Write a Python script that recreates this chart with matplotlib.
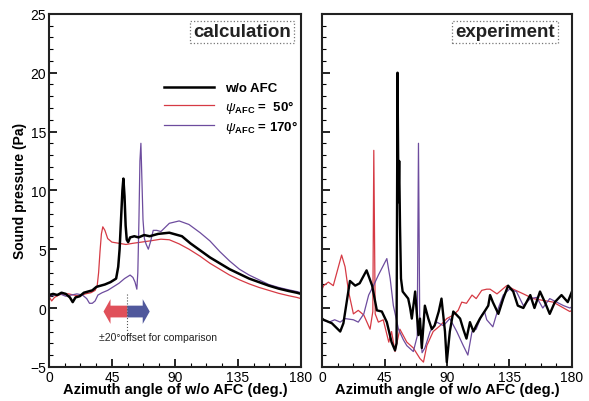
import numpy as np
import matplotlib
matplotlib.use("Agg")
import matplotlib.pyplot as plt
from matplotlib.ticker import MultipleLocator
from matplotlib.patches import FancyArrow

plt.rcParams['font.family'] = ['Liberation Sans', 'DejaVu Sans']
plt.rcParams['mathtext.fontset'] = 'custom'
plt.rcParams['mathtext.rm'] = 'Liberation Sans'
plt.rcParams['mathtext.it'] = 'Liberation Sans:italic'
plt.rcParams['mathtext.bf'] = 'Liberation Sans:bold'

# calculation (left panel)
calc_black_ang = [0, 3, 6, 9, 12, 15, 17, 19, 22, 25, 28, 31, 34, 37, 40, 44, 48, 49.5, 50.5, 51.5, 52.5, 53.2,
                  54, 54.8, 55.6, 56.6, 58, 61, 64, 68, 72, 78, 86, 95, 101, 108, 115, 122, 129, 136, 143, 150,
                  157, 164, 171, 177, 180]
calc_black = [1.1, 1.2, 1.1, 1.3, 1.2, 0.9, 0.5, 0.9, 1.0, 1.3, 1.4, 1.5, 1.8, 1.9, 2.0, 2.2, 2.5, 3.5, 5.0, 7.5,
              10.0, 11.0, 9.5, 7.0, 5.8, 5.6, 6.0, 6.1, 6.0, 6.2, 6.1, 6.3, 6.4, 6.1, 5.5, 4.9, 4.3, 3.8, 3.3, 2.9,
              2.5, 2.2, 1.9, 1.65, 1.45, 1.3, 1.2]

calc_red_ang = [0, 2, 4, 7, 10, 14, 18, 22, 26, 30, 33, 34.5, 35.5, 36.5, 37.5, 38.5, 40, 42, 45, 50, 55, 60, 66,
                72, 80, 86, 93, 100, 108, 115, 122, 129, 136, 143, 150, 157, 164, 171, 177, 180]
calc_red = [1.0, 0.6, 0.9, 1.1, 1.2, 1.2, 1.1, 1.0, 1.2, 1.3, 1.5, 1.9, 3.0, 4.8, 6.3, 6.9, 6.6, 5.9, 5.6, 5.5,
            5.4, 5.5, 5.6, 5.7, 5.85, 5.8, 5.45, 5.0, 4.4, 3.8, 3.3, 2.8, 2.4, 2.05, 1.75, 1.5, 1.25, 1.05, 0.9, 0.8]

calc_purple_ang = [0, 4, 8, 12, 16, 20, 24, 27, 29, 31, 33, 35, 38, 42, 46, 50, 54, 58, 60, 61.5, 62.8, 63.5, 64.3,
                   65, 65.7, 66.4, 67.2, 68.2, 69.5, 71, 72.5, 74.5, 77, 80, 86, 93, 100, 108, 115, 122, 129, 136,
                   143, 150, 157, 164, 171, 177, 180]
calc_purple = [1.0, 1.1, 1.2, 1.0, 1.1, 1.2, 1.1, 0.8, 0.4, 0.4, 0.6, 1.1, 1.3, 1.5, 1.8, 2.1, 2.5, 2.8, 2.6, 2.2,
               1.6, 3.0, 7.5, 12.5, 14.0, 11.0, 7.5, 5.9, 5.4, 5.0, 5.6, 6.6, 6.6, 6.5, 7.2, 7.4, 7.1, 6.4, 5.7,
               4.8, 4.0, 3.3, 2.8, 2.4, 2.0, 1.75, 1.55, 1.4, 1.3]

# experiment (right panel)
exp_black_ang = [0, 1, 7, 13, 15.3, 20, 23.8, 27, 32, 36, 39.4, 43, 46.6, 50, 52.5, 53.6, 54.3, 55.0, 55.5, 56.1,
                 56.8, 58, 60, 62, 63.4, 64.6, 67, 69.4, 70.5, 71.8, 74, 76.5, 79, 81, 84, 86, 88.5, 89.8, 92, 94.5,
                 97, 99.4, 101.7, 104, 106.5, 109, 111, 113.7, 117, 119.7, 121, 123, 127, 130.5, 134, 137.7, 141,
                 145, 150, 153, 157, 160.5, 164, 167.7, 172.5, 177, 180]
exp_black = [-0.9, -1.0, -1.3, -2.0, -1.3, 2.3, 1.9, 2.1, 3.2, 1.9, -0.2, -0.3, -1.2, -2.9, -3.6, -3.0, 20.0, 9.0,
             12.5, 7.0, 2.5, 1.4, 1.1, 0.8, 0.0, -0.9, 1.4, -2.3, -0.9, -3.4, 0.2, -0.9, -1.8, -1.5, -0.3, 0.8, -2.0,
             -4.6, -2.0, -0.3, -0.6, -0.9, -1.8, -2.6, -1.2, -2.0, -1.5, -0.9, -0.3, 0.2, 1.1, 0.5, -0.5, 0.8, 1.9,
             1.4, 0.2, 0.0, 1.1, 0.0, 1.4, 0.5, -0.5, 0.5, 1.1, 0.5, 1.4]

exp_red_ang = [0, 1, 4.5, 8, 14, 16.5, 19, 22.5, 26, 30, 34.5, 36.5, 37.2, 38.2, 40.5, 44, 48, 50, 52.5, 56, 61,
               65.7, 70.5, 73, 75.4, 80, 85, 89.8, 94.5, 98, 100.6, 104, 108, 111, 115, 118.6, 121, 126, 133, 137.7,
               145, 152, 159, 166.5, 172.5, 178.5, 180]
exp_red = [1.6, 1.9, 2.2, 1.9, 4.5, 3.5, 1.4, -0.5, -0.2, -0.6, -1.8, -0.3, 13.4, -0.5, -1.2, -1.0, -2.9, -2.0,
           -3.7, -1.8, -2.9, -3.4, -4.3, -4.6, -3.2, -2.0, -1.5, -0.9, -0.6, -0.2, 0.5, 0.4, 1.1, 0.8, 1.5, 1.6,
           1.6, 1.2, 1.9, 1.6, 1.2, 0.8, 0.65, 0.5, 0.1, -0.3, -0.2]

exp_purple_ang = [0, 5, 9, 13, 16.5, 22.5, 26, 30, 33.5, 37, 40.5, 44, 46.6, 49, 51.3, 55, 58.5, 61, 65.7, 68.5,
                  69.4, 70.3, 72, 74, 77.8, 82.6, 87.4, 92, 97, 101.7, 105, 108, 111, 115, 117, 118.6, 123, 127,
                  130.5, 135, 140, 145, 150, 154.6, 159, 164, 169, 174, 178.5, 180]
exp_purple = [-1.0, -1.2, -1.0, -1.2, -0.9, -1.0, -1.2, -0.5, 1.1, 1.9, 2.8, 3.6, 4.2, 2.5, 0.2, -1.8, -2.7, -3.2,
              -3.7, -2.4, 14.0, -1.0, -3.8, -3.4, -2.0, -1.2, -1.5, -0.9, -2.0, -3.2, -4.0, -2.0, -1.8, -0.6, -0.3,
              -1.0, -1.6, 0.0, 1.1, 1.6, 1.4, 0.2, 0.8, 0.9, 0.0, 0.8, 0.5, 0.2, 0.0, 0.1]

labels = ['w/o AFC', r'$\psi_{\mathbf{AFC}}$ =  50°', r'$\psi_{\mathbf{AFC}}$ = 170°']
red = '#d63a44'
purple = '#6d4c9e'

fig = plt.figure(figsize=(5.89, 4.02), dpi=100)
ax1 = fig.add_axes([0.083, 0.085, 0.428, 0.878])
ax2 = fig.add_axes([0.547, 0.085, 0.424, 0.878])


def style_axes(ax, show_y):
    ax.set_xlim(0, 180)
    ax.set_ylim(-5, 25)
    ax.xaxis.set_major_locator(MultipleLocator(45))
    ax.xaxis.set_minor_locator(MultipleLocator(11.25))
    ax.yaxis.set_major_locator(MultipleLocator(5))
    ax.yaxis.set_minor_locator(MultipleLocator(1))
    ax.tick_params(which='both', direction='in', top=False, right=False, labelsize=10)
    ax.tick_params(which='major', length=6, width=1.2, pad=2)
    ax.tick_params(which='minor', length=3, width=0.8)
    if not show_y:
        ax.tick_params(axis='y', labelleft=False)
    for s in ax.spines.values():
        s.set_linewidth(1.5)
        s.set_color('#222222')
    ax.set_xlabel('Azimuth angle of w/o AFC (deg.)', fontsize=10.5, fontweight='bold', labelpad=-1)


ax1.plot(calc_red_ang, calc_red, color=red, lw=0.9, label=labels[1])
ax1.plot(calc_purple_ang, calc_purple, color=purple, lw=0.9, label=labels[2])
ax1.plot(calc_black_ang, calc_black, color='black', lw=1.8, label=labels[0])
style_axes(ax1, True)
ax1.set_ylabel('Sound pressure (Pa)', fontsize=10, fontweight='bold', labelpad=2)

h, l = ax1.get_legend_handles_labels()
order = [2, 0, 1]
ax1.legend([h[i] for i in order], [l[i] for i in order], loc='upper left', bbox_to_anchor=(0.41, 0.84),
           frameon=False, handlelength=3.8, labelspacing=0.25, prop={'weight': 'bold', 'size': 9.5})

box = dict(boxstyle='square,pad=0.15', facecolor='white', edgecolor='#777777', linestyle=':', linewidth=0.9)
ax1.text(0.766, 0.949, 'calculation', transform=ax1.transAxes, ha='center', va='center',
         fontsize=13.5, fontweight='bold', color='#222222', bbox=box)

# +-20 deg offset arrows
ax1.add_patch(FancyArrow(56, -0.3, -12, 0, width=1.0, head_width=2.1, head_length=5,
                         length_includes_head=False, color='#e0505a', lw=0))
ax1.add_patch(FancyArrow(56, -0.3, 11, 0, width=1.0, head_width=2.1, head_length=5,
                         length_includes_head=False, color='#50589c', lw=0))
ax1.plot([56, 56], [1.2, -2.0], color='#555555', lw=0.8, ls=':')
ax1.text(36, -2.5, '±20°offset for comparison', fontsize=7.5, ha='left', va='center', color='#222222')

ax2.plot(exp_red_ang, exp_red, color=red, lw=0.9)
ax2.plot(exp_purple_ang, exp_purple, color=purple, lw=0.9)
ax2.plot(exp_black_ang, exp_black, color='black', lw=1.7)
style_axes(ax2, False)
ax2.text(0.732, 0.949, 'experiment', transform=ax2.transAxes, ha='center', va='center',
         fontsize=13.5, fontweight='bold', color='#222222', bbox=box)

fig.savefig('out.png', dpi=100)
